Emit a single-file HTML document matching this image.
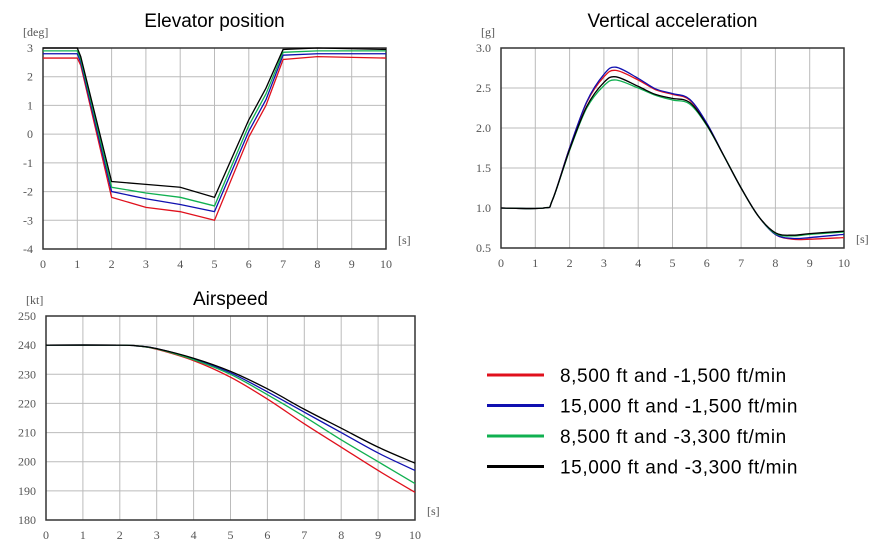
<!DOCTYPE html>
<html><head><meta charset="utf-8">
<style>
body{margin:0;background:#fff;width:889px;height:549px;overflow:hidden;font-family:"Liberation Sans",sans-serif;}
svg{position:absolute;left:0;top:0}
.tick{font-family:"Liberation Serif",serif;font-size:12px;fill:#555}
.title{font-family:"Liberation Sans",sans-serif;font-size:19px;fill:#000}
.leg{font-family:"Liberation Sans",sans-serif;font-size:19px;letter-spacing:0.6px;fill:#000}
</style></head>
<body>
<svg id="svg" width="889" height="549"></svg>
<script>
// Series names / colors
const seriesNames=["8,500 ft and -1,500 ft/min","15,000 ft and -1,500 ft/min","8,500 ft and -3,300 ft/min","15,000 ft and -3,300 ft/min"];
const seriesColors=["#e0101c","#1010b0","#10b050","#000000"];
// Elevator position
const elevT=[0,1,1.1,2,3,4,5,6,6.5,7,8,10];
const elevRed=[2.65,2.65,2.4,-2.2,-2.55,-2.7,-3.0,-0.1,1.0,2.6,2.7,2.65];
const elevBlue=[2.8,2.8,2.5,-2.0,-2.25,-2.45,-2.7,0.1,1.2,2.75,2.8,2.8];
const elevGreen=[2.9,2.9,2.6,-1.85,-2.05,-2.2,-2.5,0.3,1.4,2.85,2.9,2.9];
const elevBlack=[3.0,3.0,2.7,-1.65,-1.75,-1.85,-2.2,0.5,1.6,2.95,3.0,2.95];
const elevYTicks=["3","2","1","0","-1","-2","-3","-4"];
// Vertical acceleration
const accT=[0,1.25,1.5,2,2.5,3,3.35,4,4.5,5,5.5,6,6.5,7,7.5,8,8.5,9,10];
const accRed=[1,1,1.1,1.75,2.32,2.64,2.72,2.6,2.48,2.42,2.35,2.05,1.65,1.25,0.9,0.67,0.61,0.61,0.63];
const accBlue=[1,1,1.1,1.75,2.33,2.67,2.76,2.62,2.49,2.43,2.36,2.06,1.65,1.25,0.9,0.67,0.62,0.63,0.67];
const accGreen=[1,1,1.1,1.72,2.25,2.53,2.6,2.5,2.41,2.35,2.3,2.03,1.65,1.25,0.9,0.68,0.65,0.67,0.7];
const accBlack=[1,1,1.1,1.73,2.27,2.57,2.64,2.52,2.42,2.37,2.32,2.04,1.65,1.25,0.9,0.69,0.66,0.68,0.71];
const accYTicks=["3.0","2.5","2.0","1.5","1.0","0.5"];
// Airspeed
const airT=[0,2,2.5,3,4,5,6,7,8,9,10];
const airRed=[240,240,239.7,238.6,234.7,229,221.5,213,205,197,189.5];
const airBlue=[240,240,239.7,238.8,235.3,230.5,224,217,210,203,197];
const airGreen=[240,240,239.7,238.7,235,230,223,215.5,207.5,200,192.5];
const airBlack=[240,240,239.7,238.8,235.5,231,225,218,211.5,205,199.5];
const airYTicks=["250","240","230","220","210","200","190","180"];
const xTicks=["0","1","2","3","4","5","6","7","8","9","10"];

const svg=document.getElementById('svg');
const NS="http://www.w3.org/2000/svg";
function mk(tag,attrs,parent){const e=document.createElementNS(NS,tag);for(const k in attrs)e.setAttribute(k,attrs[k]);(parent||svg).appendChild(e);return e;}

function chart(o){
  const g=mk('g',{});
  
  
  const sx=v=>o.x0+(v-0)/10*(o.x1-o.x0);
  const sy=v=>o.y1-(v-o.ymin)/(o.ymax-o.ymin)*(o.y1-o.y0);
  const t=mk('text',{x:(o.x0+o.x1)/2,y:o.titleY,'text-anchor':'middle',class:'title'},g);t.textContent=o.title;
  
  
  for(let i=0;i<=10;i++){const l=mk('line',{x1:sx(i),x2:sx(i),y1:o.y0,y2:o.y1,stroke:'#bbb','stroke-width':1},g);
    
    const tx=mk('text',{x:sx(i),y:o.y1+19,'text-anchor':'middle',class:'tick'},g);tx.textContent=xTicks[i];
    }
  o.yTicks.forEach((lab,i)=>{const v=parseFloat(lab);const y=sy(v);
    const l=mk('line',{x1:o.x0,x2:o.x1,y1:y,y2:y,stroke:'#bbb','stroke-width':1},g);
    
    const tx=mk('text',{x:o.x0-10,y:y+4,'text-anchor':'end',class:'tick'},g);tx.textContent=lab;
    });
  const fr=mk('rect',{x:o.x0,y:o.y0,width:o.x1-o.x0,height:o.y1-o.y0,fill:'none',stroke:'#333','stroke-width':1.5},g);
  
  const u=mk('text',{x:o.x0-20,y:o.y0-12,class:'tick'},g);u.textContent=o.unit;
  
  const s=mk('text',{x:o.x1+12,y:o.y1-5,class:'tick'},g);s.textContent='[s]';
  
  o.series.forEach((arr,k)=>{
    const pts=o.t.map((tv,i)=>[sx(tv),sy(arr[i])]);
    let d='M'+pts[0][0]+','+pts[0][1];
    if(o.smooth){
      for(let i=0;i<pts.length-1;i++){const p0=pts[Math.max(0,i-1)],p1=pts[i],p2=pts[i+1],p3=pts[Math.min(pts.length-1,i+2)];
        const c1=[p1[0]+(p2[0]-p0[0])/6,p1[1]+(p2[1]-p0[1])/6],c2=[p2[0]-(p3[0]-p1[0])/6,p2[1]-(p3[1]-p1[1])/6];
        d+=' C'+c1+' '+c2+' '+p2;}
    } else {for(let i=1;i<pts.length;i++)d+=' L'+pts[i];}
    const p=mk('path',{d:d,fill:'none',stroke:seriesColors[k],'stroke-width':1.3},g);
    
    
  });
}
chart({name:'elevator-position-chart',title:'Elevator position',titleY:27,x0:43,x1:386,y0:48,y1:249,ymin:-4,ymax:3,yTicks:elevYTicks,unit:'[deg]',t:elevT,series:[elevRed,elevBlue,elevGreen,elevBlack],smooth:false});
chart({name:'vertical-acceleration-chart',title:'Vertical acceleration',titleY:27,x0:501,x1:844,y0:48,y1:248,ymin:0.5,ymax:3.0,yTicks:accYTicks,unit:'[g]',t:accT,series:[accRed,accBlue,accGreen,accBlack],smooth:true});
chart({name:'airspeed-chart',title:'Airspeed',titleY:305,x0:46,x1:415,y0:316,y1:520,ymin:180,ymax:250,yTicks:airYTicks,unit:'[kt]',t:airT,series:[airRed,airBlue,airGreen,airBlack],smooth:true});

const lg=mk('g',{});


seriesNames.forEach((nm,i)=>{const y=375+i*30.5;
  const e=mk('g',{},lg);
  
  
  mk('line',{x1:487,x2:544,y1:y,y2:y,stroke:seriesColors[i],'stroke-width':3},e);
  const t=mk('text',{x:560,y:y+7,class:'leg'},e);t.textContent=nm;});
</script>
</body></html>
